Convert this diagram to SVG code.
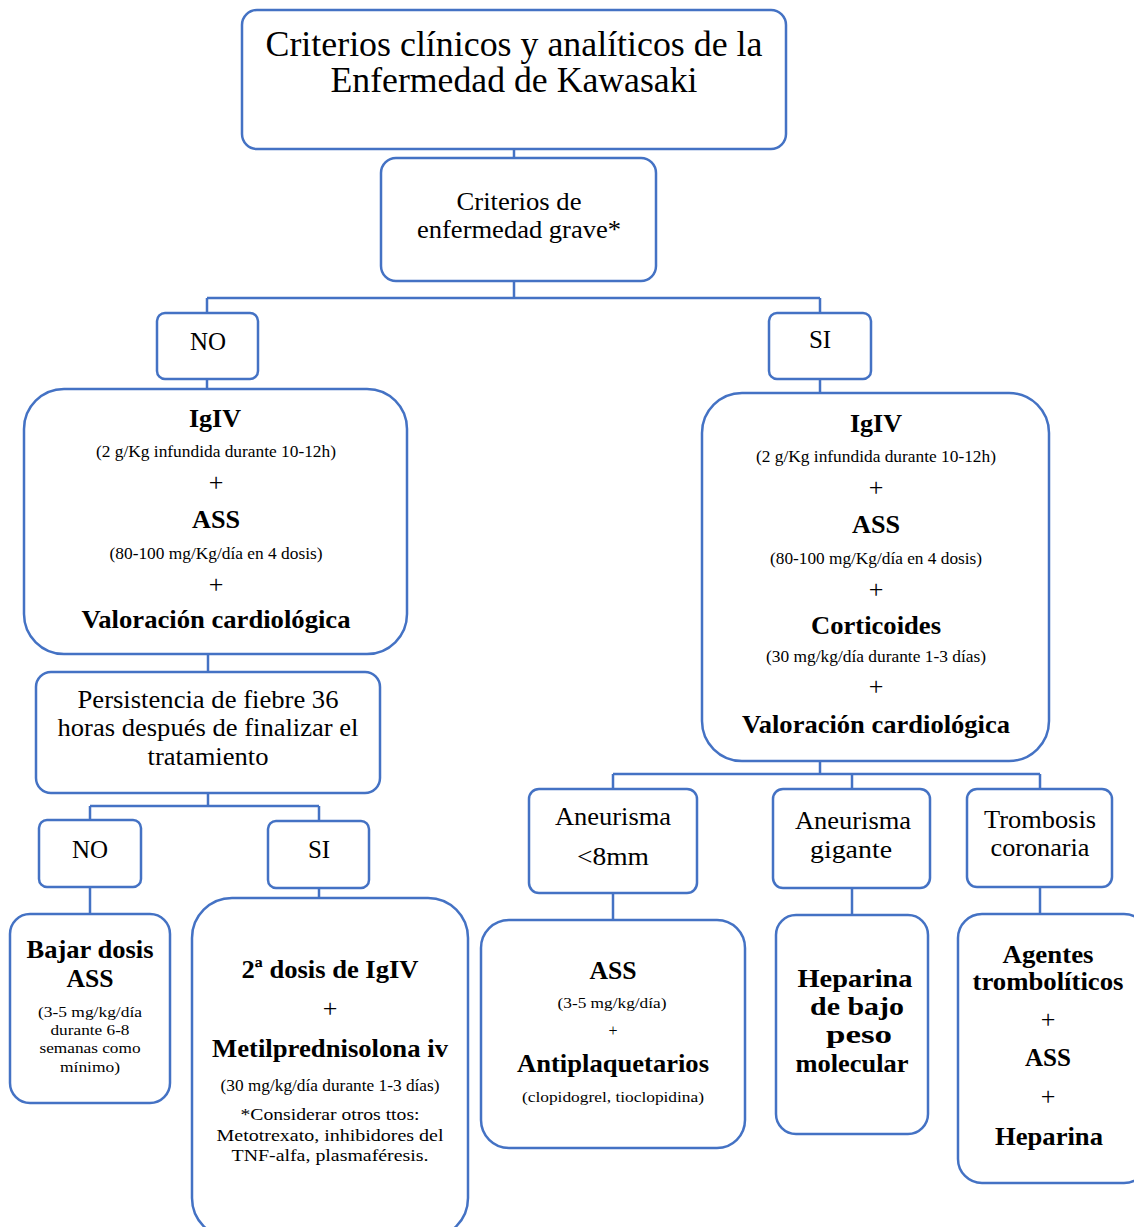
<svg xmlns="http://www.w3.org/2000/svg" width="1134" height="1227" viewBox="0 0 1134 1227" font-family="'Liberation Serif', 'Times New Roman', serif">
<style>
.b{fill:#fff;stroke:#4472C4;stroke-width:2.5}
.c{fill:none;stroke:#4472C4;stroke-width:2.5}
text{font-family:"Liberation Serif","Times New Roman",serif;fill:#000;text-anchor:middle}
.t{font-size:35px}
.m{font-size:25px}
.h{font-size:26px;font-weight:bold}
.s{font-size:16px}
.x{font-size:15px}
.p{font-size:26px}
</style>
<rect width="1134" height="1227" fill="#fff"/>
<g id="connectors" class="c">
<path d="M514 149V158"/>
<path d="M514 281V298M207 298H820M207 298V313M820 298V313"/>
<path d="M207 379V389"/>
<path d="M820 379V393"/>
<path d="M208 654V672"/>
<path d="M208 793V806M90 806H319M90 806V820M319 806V821"/>
<path d="M90 887V914"/>
<path d="M319 888V898"/>
<path d="M820 761V774M613 774H1040M613 774V789M852 774V789M1040 774V789"/>
<path d="M613 893V920"/>
<path d="M852 888V915"/>
<path d="M1040 887V914"/>
</g>
<g id="title">
<rect class="b" x="242" y="10" width="544" height="139" rx="15"/>
<text class="t" x="514" y="56" textLength="497" lengthAdjust="spacingAndGlyphs">Criterios clínicos y analíticos de la</text>
<text class="t" x="514" y="92" textLength="367" lengthAdjust="spacingAndGlyphs">Enfermedad de Kawasaki</text>
</g>
<g id="grave">
<rect class="b" x="381" y="158" width="275" height="123" rx="15"/>
<text class="m" x="519" y="210" textLength="125" lengthAdjust="spacingAndGlyphs">Criterios de</text>
<text class="m" x="519" y="238" textLength="204" lengthAdjust="spacingAndGlyphs">enfermedad grave*</text>
</g>
<g id="no1">
<rect class="b" x="157" y="313" width="101" height="66" rx="8"/>
<text class="m" x="208" y="350">NO</text>
</g>
<g id="si1">
<rect class="b" x="769" y="313" width="102" height="66" rx="8"/>
<text class="m" x="820" y="348">SI</text>
</g>
<g id="tratNo">
<rect class="b" x="24" y="389" width="383" height="265" rx="40"/>
<text class="h" x="215" y="427" textLength="52" lengthAdjust="spacingAndGlyphs">IgIV</text>
<text class="s" x="216" y="457" textLength="240" lengthAdjust="spacingAndGlyphs">(2 g/Kg infundida durante 10-12h)</text>
<text class="p" x="216" y="491">+</text>
<text class="h" x="216" y="528" textLength="48" lengthAdjust="spacingAndGlyphs">ASS</text>
<text class="s" x="216" y="559" textLength="213" lengthAdjust="spacingAndGlyphs">(80-100 mg/Kg/día en 4 dosis)</text>
<text class="p" x="216" y="593">+</text>
<text class="h" x="216" y="628" textLength="269" lengthAdjust="spacingAndGlyphs">Valoración cardiológica</text>
</g>
<g id="persistencia">
<rect class="b" x="36" y="672" width="344" height="121" rx="15"/>
<text class="m" x="208" y="708" textLength="261" lengthAdjust="spacingAndGlyphs">Persistencia de fiebre 36</text>
<text class="m" x="208" y="736" textLength="301" lengthAdjust="spacingAndGlyphs">horas después de finalizar el</text>
<text class="m" x="208" y="765" textLength="121" lengthAdjust="spacingAndGlyphs">tratamiento</text>
</g>
<g id="no2">
<rect class="b" x="39" y="820" width="102" height="67" rx="8"/>
<text class="m" x="90" y="858">NO</text>
</g>
<g id="si2">
<rect class="b" x="268" y="821" width="101" height="67" rx="8"/>
<text class="m" x="319" y="858">SI</text>
</g>
<g id="bajar">
<rect class="b" x="10" y="914" width="160" height="189" rx="20"/>
<text class="h" x="90" y="958" textLength="127" lengthAdjust="spacingAndGlyphs">Bajar dosis</text>
<text class="h" x="90" y="987" textLength="47" lengthAdjust="spacingAndGlyphs">ASS</text>
<text class="x" x="90" y="1017" textLength="104" lengthAdjust="spacingAndGlyphs">(3-5 mg/kg/día</text>
<text class="x" x="90" y="1035" textLength="79" lengthAdjust="spacingAndGlyphs">durante 6-8</text>
<text class="x" x="90" y="1053" textLength="101" lengthAdjust="spacingAndGlyphs">semanas como</text>
<text class="x" x="90" y="1072" textLength="60" lengthAdjust="spacingAndGlyphs">mínimo)</text>
</g>
<g id="segunda">
<rect class="b" x="192" y="898" width="276" height="340" rx="40"/>
<text class="h" x="330" y="978" textLength="177" lengthAdjust="spacingAndGlyphs">2ª dosis de IgIV</text>
<text class="p" x="330" y="1017">+</text>
<text class="h" x="330" y="1057" textLength="236" lengthAdjust="spacingAndGlyphs">Metilprednisolona iv</text>
<text class="s" x="330" y="1091" textLength="219" lengthAdjust="spacingAndGlyphs">(30 mg/kg/día durante 1-3 días)</text>
<text class="s" x="330" y="1120" font-size="17" textLength="179" lengthAdjust="spacingAndGlyphs">*Considerar otros ttos:</text>
<text class="s" x="330" y="1141" font-size="17" textLength="227" lengthAdjust="spacingAndGlyphs">Metotrexato, inhibidores del</text>
<text class="s" x="330" y="1161" font-size="17" textLength="197" lengthAdjust="spacingAndGlyphs">TNF-alfa, plasmaféresis.</text>
</g>
<g id="tratSi">
<rect class="b" x="702" y="393" width="347" height="368" rx="40"/>
<text class="h" x="876" y="432" textLength="52" lengthAdjust="spacingAndGlyphs">IgIV</text>
<text class="s" x="876" y="462" textLength="240" lengthAdjust="spacingAndGlyphs">(2 g/Kg infundida durante 10-12h)</text>
<text class="p" x="876" y="496">+</text>
<text class="h" x="876" y="533" textLength="48" lengthAdjust="spacingAndGlyphs">ASS</text>
<text class="s" x="876" y="564" textLength="212" lengthAdjust="spacingAndGlyphs">(80-100 mg/Kg/día en 4 dosis)</text>
<text class="p" x="876" y="598">+</text>
<text class="h" x="876" y="634" textLength="130" lengthAdjust="spacingAndGlyphs">Corticoides</text>
<text class="s" x="876" y="662" textLength="220" lengthAdjust="spacingAndGlyphs">(30 mg/kg/día durante 1-3 días)</text>
<text class="p" x="876" y="695">+</text>
<text class="h" x="876" y="733" textLength="268" lengthAdjust="spacingAndGlyphs">Valoración cardiológica</text>
</g>
<g id="aneurisma8">
<rect class="b" x="529" y="789" width="168" height="104" rx="10"/>
<text class="m" x="613" y="825" textLength="116" lengthAdjust="spacingAndGlyphs">Aneurisma</text>
<text class="m" x="613" y="865" textLength="72" lengthAdjust="spacingAndGlyphs">&lt;8mm</text>
</g>
<g id="aneurismaGigante">
<rect class="b" x="773" y="789" width="157" height="99" rx="10"/>
<text class="m" x="853" y="829" textLength="116" lengthAdjust="spacingAndGlyphs">Aneurisma</text>
<text class="m" x="851" y="858" textLength="82" lengthAdjust="spacingAndGlyphs">gigante</text>
</g>
<g id="trombosis">
<rect class="b" x="967" y="789" width="145" height="98" rx="10"/>
<text class="m" x="1040" y="828" textLength="112" lengthAdjust="spacingAndGlyphs">Trombosis</text>
<text class="m" x="1040" y="856" textLength="99" lengthAdjust="spacingAndGlyphs">coronaria</text>
</g>
<g id="assAnti">
<rect class="b" x="481" y="920" width="264" height="228" rx="28"/>
<text class="h" x="613" y="979" textLength="47" lengthAdjust="spacingAndGlyphs">ASS</text>
<text class="x" x="612" y="1008" textLength="109" lengthAdjust="spacingAndGlyphs">(3-5 mg/kg/día)</text>
<text class="s" x="613" y="1036">+</text>
<text class="h" x="613" y="1072" textLength="192" lengthAdjust="spacingAndGlyphs">Antiplaquetarios</text>
<text class="x" x="613" y="1102" textLength="182" lengthAdjust="spacingAndGlyphs">(clopidogrel, tioclopidina)</text>
</g>
<g id="heparinaBajo">
<rect class="b" x="776" y="915" width="152" height="219" rx="20"/>
<text class="h" x="855" y="987" textLength="115" lengthAdjust="spacingAndGlyphs">Heparina</text>
<text class="h" x="857" y="1015" textLength="94" lengthAdjust="spacingAndGlyphs">de bajo</text>
<text class="h" x="859" y="1043" textLength="66" lengthAdjust="spacingAndGlyphs">peso</text>
<text class="h" x="852" y="1072" textLength="113" lengthAdjust="spacingAndGlyphs">molecular</text>
</g>
<g id="agentes">
<rect class="b" x="958" y="914" width="190" height="269" rx="24"/>
<text class="h" x="1048" y="963" textLength="91" lengthAdjust="spacingAndGlyphs">Agentes</text>
<text class="h" x="1048" y="990" textLength="151" lengthAdjust="spacingAndGlyphs">trombolíticos</text>
<text class="p" x="1048" y="1028">+</text>
<text class="h" x="1048" y="1066" textLength="46" lengthAdjust="spacingAndGlyphs">ASS</text>
<text class="p" x="1048" y="1105">+</text>
<text class="h" x="1049" y="1145" textLength="108" lengthAdjust="spacingAndGlyphs">Heparina</text>
</g>
</svg>
